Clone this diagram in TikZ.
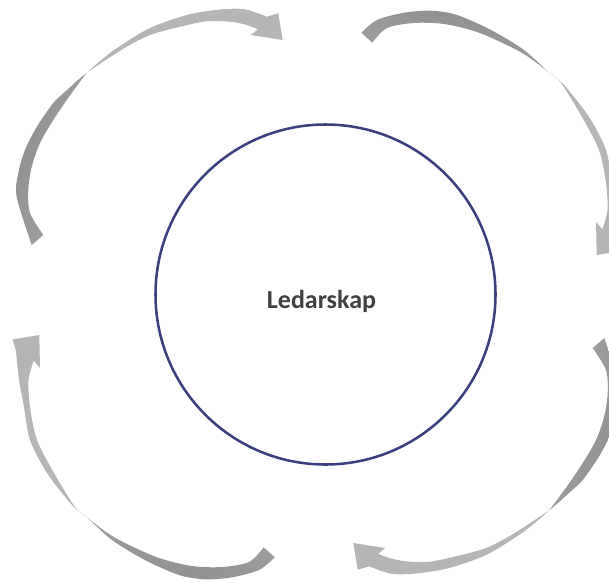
\documentclass[tikz,border=0pt]{standalone}
\usepackage{fontspec}
\setmainfont{Carlito}
\usepackage{tikz}

\definecolor{arrdark}{RGB}{140,141,140}
\definecolor{arrmid}{RGB}{165,166,165}
\definecolor{arrlight}{RGB}{180,181,180}
\definecolor{ringblue}{RGB}{59,63,125}
\definecolor{txtgray}{RGB}{64,64,64}

\begin{document}
\begin{tikzpicture}[x = 0.75pt, y = -0.75pt,
                    ring/.style = {circle, draw = ringblue, line width = 1.9pt, minimum size = 255pt, inner sep = 0pt},
                    title/.style = {text = txtgray, font = \fontsize{19.5}{23}\selectfont\bfseries},
                    tailpart/.style = {left color = arrdark, right color = arrmid, shading angle = #1},
                    headpart/.style = {fill = arrlight}]
  \useasboundingbox (0, 0) rectangle (609, 582);
  \clip (0, 0) rectangle (609, 582);

  \foreach \r/\sa in {0/73, 180/253} {
    \shade [tailpart = \sa, rotate around = {\r:(318, 291.5)}]
      plot [smooth] coordinates {(31.7,245) (16.7,197) (18.3,173) (25,150) (36.7,127) (53.3,103) (66,91) (78,80) (87,72.5)}
      -- plot [smooth] coordinates {(87,72.5) (80,81.7) (66.7,100) (53.3,120) (40,143) (31.7,167) (28.3,190) (30,213) (43.3,235)}
      -- cycle;
    \fill [headpart, rotate around = {\r:(318, 291.5)}]
      plot [smooth] coordinates {(87,72.5) (100,61) (117,48) (150,28) (187,15) (220,9.5) (245,9.3) (266.7,16.7)}
      -- (278.3,13.3) -- (282.7,40) -- (250.7,35)
      -- plot [smooth] coordinates {(258,29.3) (246.7,25) (230,21.7) (205,21.5) (175,28) (150,35) (128,46) (108,58.5) (87,72.5)}
      -- cycle;
  }

  \foreach \r/\sa in {0/349, 180/169} {
    \shade [tailpart = \sa, rotate around = {\r:(318, 295)}]
      plot [smooth] coordinates {(361.3,32.7) (377,20) (404,12.7) (431,10.7) (457,15) (491,30) (524,50) (548,72)}
      -- plot [smooth] coordinates {(548,72) (530,58) (511,47) (477,32) (444,24) (414,23) (387,28) (372.3,42.7)}
      -- cycle;
    \fill [headpart, rotate around = {\r:(318, 295)}]
      plot [smooth] coordinates {(548,72) (564,85) (589,117) (606,150) (612,183) (617,210) (620,239)}
      -- (623.4,250.6) -- (596.7,255) -- (596,222)
      -- plot [smooth] coordinates {(602.3,229.3) (607.5,210) (606,183) (599,150) (582,117) (561,83) (548,72)}
      -- cycle;
  }

  \node [ring] (lead) at (325.5, 294.5) {};
  \node [title] (leadtext) at (321.5, 301) {Ledarskap};
\end{tikzpicture}
\end{document}
